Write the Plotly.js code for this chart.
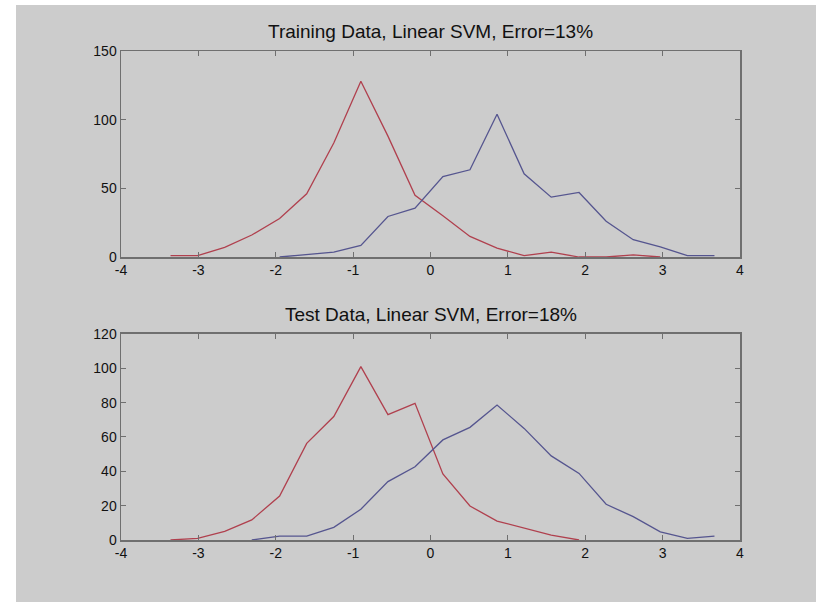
<!DOCTYPE html>
<html>
<head>
<meta charset="utf-8">
<script src="https://cdn.plot.ly/plotly-3.0.1.min.js"></script>
<style>
  html, body { margin: 0; padding: 0; background: #ffffff; }
  #chart { position: absolute; left: 16px; top: 5px; width: 800px; height: 597px; }
</style>
</head>
<body>
<div id="chart"></div>
<script>
// Bin centres (shared x positions)
const binCenters = [-3.36, -3.01, -2.66, -2.31, -1.95, -1.60, -1.25, -0.90, -0.55, -0.20,
                    0.16, 0.51, 0.86, 1.21, 1.56, 1.92, 2.27, 2.62, 2.97, 3.32, 3.67];

// Training data histograms
const trainRedX = binCenters.slice(0, 19);
const trainRed  = [1, 1, 7, 16, 28, 46, 83, 128, 88, 45, 30, 15, 6.5, 1, 3.5, 0, 0, 1.5, 0];
const trainBlueX = binCenters.slice(4);
const trainBlue  = [0, 2, 3.6, 8.5, 29.5, 35.6, 58.6, 63.5, 104, 60.6, 43.6, 47, 26, 12.6, 7.3, 1, 1];

// Test data histograms
const testRedX = binCenters.slice(0, 16);
const testRed  = [0, 1, 5, 11.7, 25.6, 56.3, 71.9, 101, 73, 79.6, 38.5, 19.8, 11, 6.8, 2.9, 0];
const testBlueX = binCenters.slice(3);
const testBlue  = [0, 2.3, 2.3, 7.4, 17.9, 34, 42.7, 58.3, 65.6, 78.6, 65, 49, 38.8, 20.8, 13.6, 4.7, 1, 2.3];

const xTicks = [-4, -3, -2, -1, 0, 1, 2, 3, 4];
const yTicksTrain = [0, 50, 100, 150];
const yTicksTest = [0, 20, 40, 60, 80, 100, 120];

const titleTrain = 'Training Data, Linear SVM, Error=13%';
const titleTest = 'Test Data, Linear SVM, Error=18%';

const redColor = '#b0404e';
const blueColor = '#55558f';

const traces = [
  {x: trainRedX, y: trainRed, xaxis: 'x', yaxis: 'y', mode: 'lines', line: {color: redColor, width: 1.3}, cliponaxis: false},
  {x: trainBlueX, y: trainBlue, xaxis: 'x', yaxis: 'y', mode: 'lines', line: {color: blueColor, width: 1.3}, cliponaxis: false},
  {x: testRedX, y: testRed, xaxis: 'x2', yaxis: 'y2', mode: 'lines', line: {color: redColor, width: 1.3}, cliponaxis: false},
  {x: testBlueX, y: testBlue, xaxis: 'x2', yaxis: 'y2', mode: 'lines', line: {color: blueColor, width: 1.3}, cliponaxis: false}
];

const axisCommon = {
  showline: true, mirror: 'ticks', linecolor: '#6f6f6f', linewidth: 1.5,
  ticks: 'inside', ticklen: 5, tickcolor: '#6f6f6f', tickwidth: 1,
  showgrid: false, zeroline: false,
  tickfont: {family: 'Liberation Sans, Arial, sans-serif', size: 14, color: '#111111'},
  fixedrange: true
};

const topDom = [0.5787, 1];
const botDom = [0, 0.4213];

const layout = {
  width: 800, height: 597,
  paper_bgcolor: '#cccccc', plot_bgcolor: '#cccccc',
  margin: {l: 105, r: 76, t: 46, b: 62},
  showlegend: false,
  xaxis: Object.assign({}, axisCommon, {domain: [0, 1], range: [-4, 4], tickvals: xTicks, ticktext: xTicks.map(String), anchor: 'y'}),
  yaxis: Object.assign({}, axisCommon, {domain: topDom, range: [0, 150], tickvals: yTicksTrain, ticktext: yTicksTrain.map(String), anchor: 'x'}),
  xaxis2: Object.assign({}, axisCommon, {domain: [0, 1], range: [-4, 4], tickvals: xTicks, ticktext: xTicks.map(String), anchor: 'y2'}),
  yaxis2: Object.assign({}, axisCommon, {domain: botDom, range: [0, 120], tickvals: yTicksTest, ticktext: yTicksTest.map(String), anchor: 'x2'}),
  annotations: [
    {text: titleTrain, xref: 'paper', yref: 'paper', x: 0.5, y: topDom[1], yshift: 20, xanchor: 'center', yanchor: 'middle', showarrow: false,
     font: {family: 'Liberation Sans, Arial, sans-serif', size: 19, color: '#111111'}},
    {text: titleTest, xref: 'paper', yref: 'paper', x: 0.5, y: botDom[1], yshift: 19, xanchor: 'center', yanchor: 'middle', showarrow: false,
     font: {family: 'Liberation Sans, Arial, sans-serif', size: 19, color: '#111111'}}
  ]
};

Plotly.newPlot('chart', traces, layout, {displayModeBar: false, staticPlot: true});
</script>
</body>
</html>
